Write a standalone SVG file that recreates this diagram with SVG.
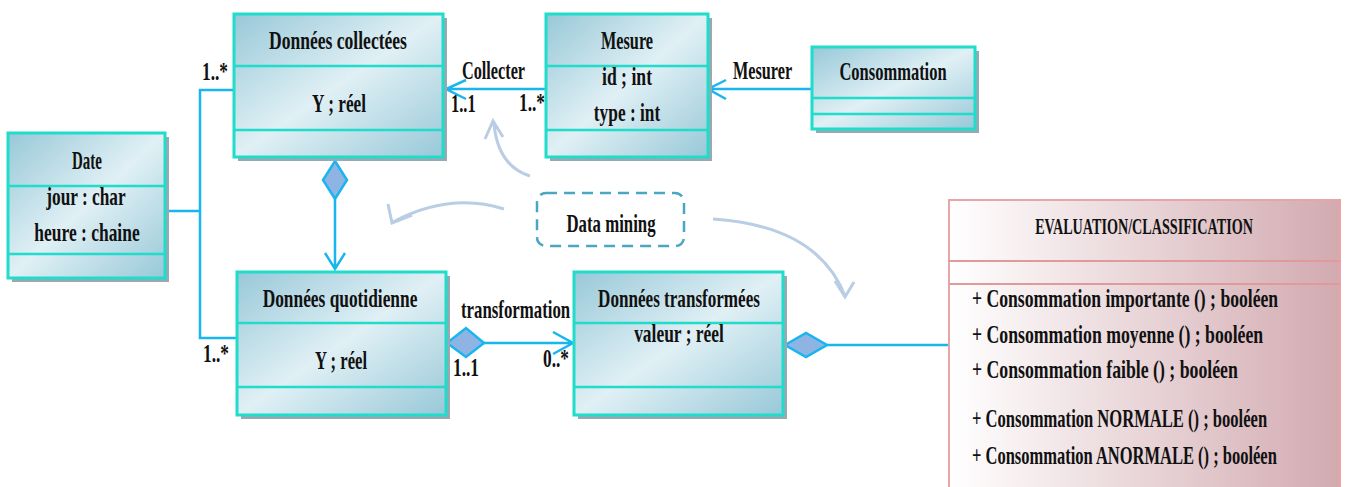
<svg xmlns="http://www.w3.org/2000/svg" width="1346" height="487" viewBox="0 0 1346 487">
<style>
.t{font-family:"Liberation Serif","Times New Roman",serif;font-size:26px;font-weight:bold;fill:#111;text-anchor:middle}
.l{font-family:"Liberation Serif","Times New Roman",serif;font-size:26px;font-weight:bold;fill:#111}
.shadow{fill:#9aa9b1}
.box{fill:url(#blueGrad);stroke:#1fdccb;stroke-width:3}
.div{stroke:#1fdccb;stroke-width:2.5}
.con{fill:none;stroke:#19b5ef;stroke-width:2.5}
.dia{fill:#8eb4e3;stroke:#19b5ef;stroke-width:2.5}
.curve{fill:none;stroke:#b9cde5;stroke-width:3}
</style>
<defs>
<linearGradient id="blueGrad" x1="0" y1="0" x2="1" y2="1">
<stop offset="0" stop-color="#98c8d8"/>
<stop offset="0.5" stop-color="#e0f0f5"/>
<stop offset="1" stop-color="#98c8d8"/>
</linearGradient>
<linearGradient id="pinkGrad" x1="0" y1="0" x2="1" y2="0">
<stop offset="0" stop-color="#ffffff"/>
<stop offset="1" stop-color="#d2aab0"/>
</linearGradient>
</defs>

<g id="connectors">
<path class="con" d="M165,211 H200 M239,90 H200 V338 H237"/>
<path class="con" d="M335,199 V269 M325,253 L335,269 L345,253"/>
<polygon class="dia" points="335,161 347,180 335,199 323,180"/>
<path class="con" d="M546,89 H446 M466,80 L446,89 L466,99"/>
<path class="con" d="M812,89 H708 M726,80 L708,89 L726,99"/>
<path class="con" d="M484,343 H573 M553,332 L573,343 L553,354"/>
<polygon class="dia" points="447,343 466,328 484,343 466,357"/>
<path class="con" d="M827,345 H949"/>
<polygon class="dia" points="785,345 806,333 827,345 806,357"/>
<path class="curve" d="M530,176 Q498,166 494,124 M485,139 L493,121 L503,137"/>
<path class="curve" d="M504,209 Q450,192 393,222 M388,204 L392,223 L412,215"/>
<path class="curve" d="M713,219 Q818,226 845,296 M835,281 L845,297 L854,282"/>
<text class="l" transform="translate(462,79) scale(0.65,1)" textLength="97" lengthAdjust="spacingAndGlyphs">Collecter</text>
<text class="l" transform="translate(451,112) scale(0.65,1)" textLength="38" lengthAdjust="spacingAndGlyphs">1..1</text>
<text class="l" transform="translate(519,111) scale(0.65,1)" textLength="40" lengthAdjust="spacingAndGlyphs">1..*</text>
<text class="l" transform="translate(733,79) scale(0.65,1)" textLength="91" lengthAdjust="spacingAndGlyphs">Mesurer</text>
<text class="l" transform="translate(202,80) scale(0.65,1)" textLength="40" lengthAdjust="spacingAndGlyphs">1..*</text>
<text class="l" transform="translate(203,362) scale(0.65,1)" textLength="40" lengthAdjust="spacingAndGlyphs">1..*</text>
<text class="l" transform="translate(461,318) scale(0.65,1)" textLength="168" lengthAdjust="spacingAndGlyphs">transformation</text>
<text class="l" transform="translate(453,376) scale(0.65,1)" textLength="40" lengthAdjust="spacingAndGlyphs">1..1</text>
<text class="l" transform="translate(543,367) scale(0.65,1)" textLength="40" lengthAdjust="spacingAndGlyphs">0..*</text>
</g>

<g id="donnees-collectees">
<rect class="shadow" x="238" y="18" width="209" height="143"/>
<rect class="box" x="234" y="14" width="209" height="143"/>
<line class="div" x1="234" y1="66" x2="443" y2="66"/>
<line class="div" x1="234" y1="130" x2="443" y2="130"/>
<text class="t" transform="translate(338,49) scale(0.65,1)" textLength="212" lengthAdjust="spacingAndGlyphs">Données collectées</text>
<text class="t" transform="translate(339,112) scale(0.65,1)" textLength="83" lengthAdjust="spacingAndGlyphs">Y ; réel</text>
</g>

<g id="mesure">
<rect class="shadow" x="550" y="18" width="162" height="143"/>
<rect class="box" x="546" y="14" width="162" height="143"/>
<line class="div" x1="546" y1="66" x2="708" y2="66"/>
<line class="div" x1="546" y1="130" x2="708" y2="130"/>
<text class="t" transform="translate(627,49) scale(0.65,1)" textLength="80" lengthAdjust="spacingAndGlyphs">Mesure</text>
<text class="t" transform="translate(627,85) scale(0.65,1)" textLength="77" lengthAdjust="spacingAndGlyphs">id ; int</text>
<text class="t" transform="translate(627,121) scale(0.65,1)" textLength="102" lengthAdjust="spacingAndGlyphs">type : int</text>
</g>

<g id="consommation">
<rect class="shadow" x="816" y="51" width="163" height="82"/>
<rect class="box" x="812" y="47" width="163" height="82"/>
<line class="div" x1="812" y1="98" x2="975" y2="98"/>
<line class="div" x1="812" y1="114" x2="975" y2="114"/>
<text class="t" transform="translate(893,80) scale(0.65,1)" textLength="165" lengthAdjust="spacingAndGlyphs">Consommation</text>
</g>

<g id="date">
<rect class="shadow" x="12" y="137" width="157" height="145"/>
<rect class="box" x="8" y="133" width="157" height="145"/>
<line class="div" x1="8" y1="186" x2="165" y2="186"/>
<line class="div" x1="8" y1="254" x2="165" y2="254"/>
<text class="t" transform="translate(87,169) scale(0.65,1)" textLength="46" lengthAdjust="spacingAndGlyphs">Date</text>
<text class="t" transform="translate(86,205) scale(0.65,1)" textLength="122" lengthAdjust="spacingAndGlyphs">jour : char</text>
<text class="t" transform="translate(87,241) scale(0.65,1)" textLength="162" lengthAdjust="spacingAndGlyphs">heure : chaine</text>
</g>

<g id="donnees-quotidienne">
<rect class="shadow" x="241" y="276" width="209" height="143"/>
<rect class="box" x="237" y="272" width="209" height="143"/>
<line class="div" x1="237" y1="323" x2="446" y2="323"/>
<line class="div" x1="237" y1="387" x2="446" y2="387"/>
<text class="t" transform="translate(340,307) scale(0.65,1)" textLength="238" lengthAdjust="spacingAndGlyphs">Données quotidienne</text>
<text class="t" transform="translate(341,369) scale(0.65,1)" textLength="80" lengthAdjust="spacingAndGlyphs">Y ; réel</text>
</g>

<g id="donnees-transformees">
<rect class="shadow" x="578" y="276" width="209" height="143"/>
<rect class="box" x="574" y="272" width="209" height="143"/>
<line class="div" x1="574" y1="323" x2="783" y2="323"/>
<line class="div" x1="574" y1="387" x2="783" y2="387"/>
<text class="t" transform="translate(679,307) scale(0.65,1)" textLength="249" lengthAdjust="spacingAndGlyphs">Données transformées</text>
<text class="t" transform="translate(679,342) scale(0.65,1)" textLength="138" lengthAdjust="spacingAndGlyphs">valeur ; réel</text>
</g>

<g id="data-mining">
<rect x="537" y="193" width="147" height="53" rx="9" fill="#ffffff" stroke="#4aa6c2" stroke-width="2.5" stroke-dasharray="11,7"/>
<text class="t" transform="translate(611,232) scale(0.65,1)" textLength="137" lengthAdjust="spacingAndGlyphs">Data mining</text>
</g>

<g id="evaluation-classification">
<rect x="949" y="200" width="391" height="300" fill="url(#pinkGrad)" stroke="#e8a5a8" stroke-width="2"/>
<line x1="949" y1="261" x2="1340" y2="261" stroke="#e09a9c" stroke-width="2"/>
<line x1="949" y1="284" x2="1340" y2="284" stroke="#e09a9c" stroke-width="2"/>
<text class="t" transform="translate(1144,234) scale(0.65,1)" textLength="335" lengthAdjust="spacingAndGlyphs" style="font-size:24px">EVALUATION/CLASSIFICATION</text>
<text class="l" transform="translate(972,307) scale(0.65,1)" textLength="471" lengthAdjust="spacingAndGlyphs">+ Consommation importante () ; booléen</text>
<text class="l" transform="translate(972,343) scale(0.65,1)" textLength="448" lengthAdjust="spacingAndGlyphs">+ Consommation moyenne () ; booléen</text>
<text class="l" transform="translate(972,378) scale(0.65,1)" textLength="409" lengthAdjust="spacingAndGlyphs">+ Consommation faible () ; booléen</text>
<text class="l" transform="translate(972,427) scale(0.65,1)" textLength="454" lengthAdjust="spacingAndGlyphs">+ Consommation NORMALE () ; booléen</text>
<text class="l" transform="translate(972,464) scale(0.65,1)" textLength="469" lengthAdjust="spacingAndGlyphs">+ Consommation ANORMALE () ; booléen</text>
</g>
</svg>
